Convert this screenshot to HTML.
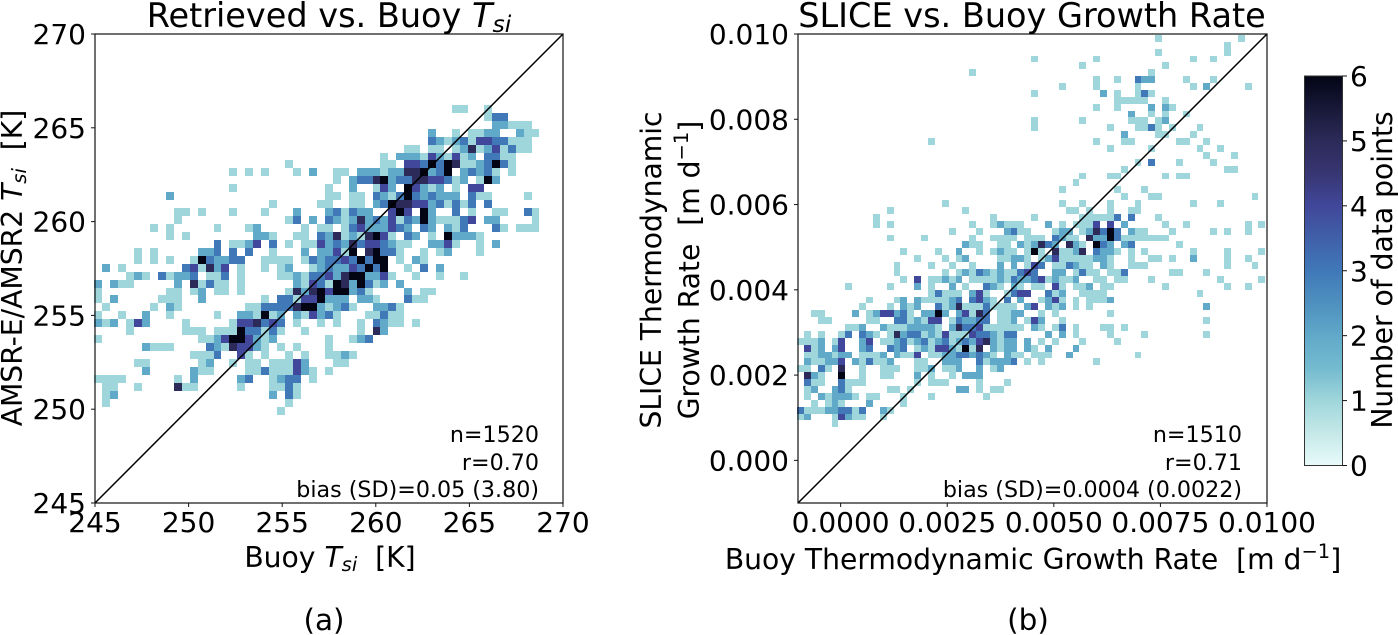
<!DOCTYPE html>
<html lang="en">
<head>
<meta charset="utf-8">
<title>Retrieved vs. Buoy and SLICE vs. Buoy</title>
<style>
html,body{margin:0;padding:0;background:#fff;width:1398px;height:635px;overflow:hidden}
svg{display:block}
text{font-family:"DejaVu Sans","Liberation Sans",sans-serif;fill:#000}
.i{font-style:italic}
</style>
</head>
<body>
<svg id="fig" xmlns="http://www.w3.org/2000/svg" width="1398" height="635" viewBox="0 0 1398 635">
<defs>
<linearGradient id="cbGrad" x1="0" y1="1" x2="0" y2="0"></linearGradient>
</defs>
<rect width="1398" height="635" fill="#fff"/>
<g id="panelA"></g>
<g id="panelB"></g>
<g id="colorbar"></g>

<text x="329" y="27" font-size="33.5" text-anchor="middle">Retrieved vs. Buoy <tspan class="i">T</tspan><tspan class="i" font-size="23.5" dy="5">si</tspan></text>
<text x="1032" y="27" font-size="33.5" text-anchor="middle">SLICE vs. Buoy Growth Rate</text>

<text x="330" y="567" font-size="28.2" text-anchor="middle">Buoy <tspan class="i">T</tspan><tspan class="i" font-size="19.5" dy="4">si</tspan><tspan dy="-4">&#160; [K]</tspan></text>
<text transform="translate(22,268) rotate(-90)" font-size="28.2" text-anchor="middle">AMSR-E/AMSR2 <tspan class="i">T</tspan><tspan class="i" font-size="19.5" dy="4">si</tspan><tspan dy="-4">&#160; [K]</tspan></text>
<text x="1033" y="569" font-size="28.2" text-anchor="middle">Buoy Thermodynamic Growth Rate&#160; [m d<tspan font-size="19.5" dy="-11">&#8722;1</tspan><tspan dy="11">]</tspan></text>
<text transform="translate(661,270) rotate(-90)" font-size="28.2" text-anchor="middle">SLICE Thermodynamic</text>
<text transform="translate(699,270) rotate(-90)" font-size="28.2" text-anchor="middle">Growth Rate&#160; [m d<tspan font-size="19.5" dy="-11">&#8722;1</tspan><tspan dy="11">]</tspan></text>

<text x="539" y="442" font-size="22.2" text-anchor="end">n=1520</text>
<text x="539" y="470" font-size="22.2" text-anchor="end">r=0.70</text>
<text x="539" y="497" font-size="22.2" text-anchor="end">bias (SD)=0.05 (3.80)</text>
<text x="1242" y="442" font-size="22.2" text-anchor="end">n=1510</text>
<text x="1242" y="470" font-size="22.2" text-anchor="end">r=0.71</text>
<text x="1242" y="497" font-size="22.2" text-anchor="end">bias (SD)=0.0004 (0.0022)</text>

<text x="324" y="630" font-size="29.5" text-anchor="middle">(a)</text>
<text x="1028" y="630" font-size="29.5" text-anchor="middle">(b)</text>
<text transform="translate(1392,270) rotate(-90)" font-size="28.2" text-anchor="middle">Number of data points</text>
</svg>

<script>
// Panel (a): axis ticks and tick labels
const tsiTicks = [245, 250, 255, 260, 265, 270];
const tsiTickLabels = ["245", "250", "255", "260", "265", "270"];
// Panel (a): histogram bins (K)
const tsiBinWidth = 0.4247;
const tsiBinStartX = 244.96;
const tsiBinTopY = 266.22;
const tsiBinHeight = 0.4232;
// Panel (a): per row from the top, alternating column bin, count
const tsiRows = [
[45,1,46,1,49,1],
[49,1,50,3,51,3],
[50,2,51,2,52,1,53,1,54,1],
[42,2,45,1,47,1,48,1,49,2,50,2,53,2,54,1,55,1],
[42,3,43,2,44,1,45,2,46,3,47,1,48,4,49,4,50,3,51,3,52,1,53,1,54,1],
[39,1,40,1,42,1,43,1,45,1,46,2,47,5,48,1,49,2,50,4,51,1,52,3,53,1,54,1],
[36,1,38,2,39,2,40,2,41,1,42,4,43,2,44,1,45,4,46,1,47,2,49,3,50,3,51,1,52,1],
[24,1,36,1,37,1,39,4,40,4,41,3,42,6,43,3,44,6,45,5,46,1,47,1,48,2,49,3,50,6,51,3,52,1],
[17,1,19,1,21,1,25,1,27,2,30,1,31,1,33,2,34,2,35,2,36,1,37,2,38,2,39,5,40,5,41,6,42,2,43,3,44,6,46,2,47,3,48,2,49,3,50,1,52,1],
[30,1,32,2,33,3,34,3,35,5,36,6,37,2,38,3,39,3,40,5,41,5,42,4,43,4,44,3,45,1,46,2,48,1,49,6,50,2],
[17,1,29,1,32,2,35,1,36,4,37,2,39,6,40,4,41,2,42,1,43,2,45,1,47,4,48,4],
[9,2,29,1,30,1,32,1,33,1,35,3,36,2,37,1,38,3,39,6,40,3,41,2,42,3,43,2,44,2,45,2,47,3,48,1,49,1,54,1],
[22,1,28,1,29,1,32,1,33,1,35,2,36,3,37,6,38,5,39,5,40,4,41,4,42,2,43,3,44,1,45,3,46,1,47,3,49,3],
[10,1,11,1,13,1,17,1,21,1,25,2,29,2,30,3,31,1,32,3,33,2,34,2,37,4,38,6,39,4,41,6,42,2,45,3,47,1,50,1,51,1,54,3,55,1],
[10,1,24,1,25,3,27,2,29,3,30,2,31,1,32,2,33,5,34,2,35,3,36,2,37,4,38,1,39,3,40,2,41,6,42,2,43,1,44,1,45,1,46,3,47,4,49,2,50,2,55,1],
[7,1,9,1,15,1,19,1,20,2,26,1,28,1,29,1,31,1,32,3,33,4,34,2,35,2,36,2,37,4,38,3,39,2,41,3,42,2,44,2,45,1,46,3,50,3,51,1,53,1,54,1,55,1],
[9,1,11,1,20,2,21,2,22,1,25,1,26,1,28,3,29,2,30,5,31,1,32,2,33,1,34,5,35,6,36,4,37,1,39,3,40,2,42,1,44,6,45,2,46,2,47,2,48,1],
[15,3,17,1,18,1,19,2,20,4,22,3,24,1,26,1,27,1,28,4,29,2,30,3,31,2,32,5,33,3,34,4,35,4,36,3,37,2,38,1,39,1,42,2,43,2,44,4,45,1,48,1,50,2],
[5,1,7,1,13,2,14,2,15,3,17,3,19,3,22,1,26,2,28,2,29,2,30,4,31,1,32,6,34,5,35,6,36,3,37,3,38,1,41,1,43,1,44,2,48,1],
[5,1,7,1,9,1,12,1,13,6,14,3,15,2,16,2,17,3,18,3,21,1,22,1,23,1,24,1,26,1,27,3,28,2,29,3,30,3,31,4,32,3,33,6,34,3,35,6,36,6,38,1,40,2,41,1],
[1,2,3,1,11,3,12,4,13,1,14,5,15,2,16,4,18,1,21,1,23,1,24,2,27,1,28,2,29,3,30,2,31,2,32,4,33,3,34,6,35,3,36,6,39,1,41,3,43,2],
[4,1,5,2,6,1,8,3,9,1,10,2,11,2,12,3,14,1,15,1,16,3,18,1,23,1,24,1,25,2,26,1,27,3,28,3,29,4,30,2,31,5,32,6,33,6,34,2,35,2,36,4,37,1,40,1,43,1,46,1],
[0,2,2,2,3,1,4,1,10,2,12,5,13,1,14,3,15,1,16,1,18,1,25,2,26,1,27,4,28,3,29,1,30,6,31,5,32,2,33,6,34,3,35,1,36,2,38,2],
[0,1,9,1,10,1,12,1,13,2,15,1,16,1,18,1,24,1,25,5,26,2,27,5,28,6,29,4,30,6,31,6,32,2,33,3,34,1,39,2,41,1,42,1],
[0,1,2,2,8,1,9,1,10,1,13,2,21,1,23,3,24,3,25,1,26,4,27,4,28,6,29,2,30,2,31,2,33,2,34,2,35,1,39,3,40,1,41,1],
[1,1,7,1,9,2,10,1,19,1,20,1,21,3,22,3,23,3,24,3,25,5,26,6,27,6,28,2,29,1,30,2,31,3,32,1,35,2,36,2,37,3,38,1],
[0,1,3,1,6,2,9,1,15,1,18,2,19,2,20,1,21,6,22,1,23,2,25,2,26,1,27,4,28,2,29,3,30,1,34,1,35,1,36,3,37,1,38,1],
[0,2,1,1,2,2,4,1,5,4,6,2,11,1,17,1,18,4,19,4,20,5,21,3,22,4,23,3,25,1,28,1,30,1,33,1,35,3,36,2,37,1,38,1,40,1],
[4,1,11,1,12,1,13,1,15,1,16,1,17,1,18,6,19,3,20,3,21,1,22,3,23,1,26,1,33,1,35,5,36,2],
[0,1,13,1,14,1,15,2,16,4,17,6,18,6,19,4,20,2,21,1,22,2,29,1,32,1,33,2,34,3],
[6,2,7,1,8,1,9,1,14,3,15,2,16,1,17,5,18,4,19,4,20,2,21,1,23,1,25,1,29,1],
[12,1,13,1,14,1,15,3,18,4,19,1,21,1,24,1,26,1,29,1,30,1,31,2,32,1],
[5,1,6,1,13,1,14,2,17,1,19,1,20,1,22,1,23,1,24,1,25,4,26,2,30,1,31,1],
[6,2,12,2,13,1,14,1,19,1,20,1,21,3,22,1,23,1,24,1,25,4,26,2,27,1,29,1],
[0,1,1,1,2,1,3,1,10,1,12,2,18,2,19,3,22,1,23,2,24,3,25,3,27,1],
[1,1,2,1,5,1,10,5,11,1,12,1,18,1,22,1,23,1,24,3,25,1],
[1,1,2,2,22,2,24,3,25,1],
[1,1,24,1],
[23,1]
];

// Panel (b): axis ticks and tick labels
const rateXTicks = [0, 0.0025, 0.005, 0.0075, 0.01];
const rateXTickLabels = ["0.0000", "0.0025", "0.0050", "0.0075", "0.0100"];
const rateYTicks = [0, 0.002, 0.004, 0.006, 0.008, 0.01];
const rateYTickLabels = ["0.000", "0.002", "0.004", "0.006", "0.008", "0.010"];
// Panel (b): histogram bins (m/d)
const rateBinWidth = 0.0001615;
const rateBinStartX = -0.00102;
const rateBinTopY = 0.00998;
// Panel (b): per row from the top, alternating column bin, count
const rateRows = [
[52,1,64,1],
[62,1],
[52,1,62,1],
[34,1,43,1,57,1,60,1],
[41,1,53,1],
[25,1,51,1],
[43,1,46,1,49,3,50,2,51,2,56,1,60,1],
[38,1,43,1,49,1,57,1,59,2,65,1],
[34,1,44,2,46,1,49,1,50,3,51,1],
[46,1,47,1,48,1,49,1,50,1,53,1],
[43,1,46,1,51,2,53,2,54,1],
[48,2,51,1,53,1,56,1],
[34,1,41,1,48,1,49,1,50,1,52,1,53,2],
[34,1,45,1,49,1,50,1,51,3,52,1,54,1,58,1],
[47,2,52,1,53,1,57,1],
[19,1,43,1,47,1,48,1,55,1,56,1,59,1],
[45,1,51,1,58,1,61,1],
[59,1,63,1],
[49,1,51,3,55,1,60,1],
[47,1,62,1,63,1],
[41,1,45,1,46,1,53,1,55,1,56,1],
[40,1],
[38,1,46,1,50,1],
[47,1,51,1,52,1,66,1],
[21,1,38,1,41,1,45,1,49,1,57,1,61,1],
[13,1,24,1,39,1,40,1,42,1,45,1,48,1,49,1],
[11,1,28,1,34,1,41,1,42,1,43,1,44,1,45,1,46,3,48,3,52,1],
[11,1,13,1,25,1,28,1,29,2,30,1,31,1,32,1,36,2,38,1,40,1,41,1,42,1,43,4,45,4,47,2,53,1,56,1,65,1,67,1],
[22,1,26,1,30,2,31,3,32,1,33,1,37,1,38,2,39,2,41,1,42,2,43,5,44,3,45,6,46,3,48,2,49,1,50,1,54,1,60,1,62,1,65,1],
[13,1,18,1,25,1,28,1,29,1,30,1,31,1,33,1,34,1,35,1,37,3,38,2,39,1,40,1,42,5,43,2,44,2,45,6,46,3,47,1,48,1,49,1,50,1,51,1,52,1,53,1],
[24,2,25,1,26,1,29,1,30,1,32,2,33,1,34,2,35,5,36,3,37,2,39,5,40,2,41,1,43,6,44,3,45,2,47,2,48,3,55,1],
[15,1,20,1,23,2,26,1,28,1,29,2,30,1,31,1,33,1,34,6,35,1,37,5,38,1,39,1,40,2,41,5,43,3,44,2,45,2,46,1,48,1,50,1,57,1,62,1,67,1],
[17,1,21,1,23,1,24,2,29,1,30,1,31,2,32,2,33,1,35,1,36,2,37,4,38,1,39,1,40,1,41,1,42,1,43,2,44,2,45,1,48,1,51,1,52,1,54,1,57,2,62,1,65,1],
[14,1,19,1,22,1,25,1,29,2,31,2,33,1,34,4,35,3,37,1,38,1,39,3,40,2,41,1,42,1,44,2,45,1,48,1,49,1,50,1,62,1,66,1],
[14,1,21,1,23,1,24,2,25,1,26,3,27,2,28,1,29,2,30,1,31,1,32,3,33,4,34,3,37,2,38,2,40,1,41,3,42,1,43,1,45,1,46,1,47,3,54,1,55,1,59,1],
[15,1,17,4,19,1,20,1,21,2,22,1,23,2,25,1,26,1,27,1,28,1,29,2,30,1,31,3,32,2,33,2,34,3,35,4,36,1,37,2,38,1,39,1,40,2,43,1,44,1,46,1,47,1,51,1,61,1,67,1],
[7,1,13,1,17,2,19,1,22,2,24,1,27,3,28,2,29,1,31,2,32,1,34,1,35,1,37,4,38,1,40,1,41,1,42,2,44,1,45,1,53,1,62,1,65,1],
[19,1,20,3,21,1,22,1,23,1,25,2,26,4,27,1,30,1,31,3,32,4,33,4,36,3,37,1,38,2,41,1,42,1,43,1,44,1,58,1],
[10,1,14,1,15,2,17,2,18,1,19,1,20,1,21,1,22,2,23,3,25,3,26,4,27,2,28,1,30,3,32,2,35,1,36,2,37,4,38,1,40,1,42,1,43,1,44,1,45,2],
[9,1,13,1,15,2,16,1,17,2,20,3,21,1,22,2,23,5,24,1,25,1,26,1,27,3,28,1,29,1,30,1,31,1,33,2,34,4,36,2,37,1,38,2,40,1,42,1,59,2],
[2,1,3,1,8,2,10,1,11,2,12,4,13,4,14,2,15,3,16,1,18,2,19,2,20,6,21,2,23,2,24,4,25,1,26,5,27,3,29,1,30,1,31,2,32,2,35,1,37,1,45,1],
[3,1,4,1,10,1,11,1,14,3,15,3,16,1,17,2,18,1,19,4,20,4,22,1,23,3,24,2,25,2,26,3,27,3,29,1,30,1,31,2,33,1,34,4,35,2,38,1,59,1],
[7,1,8,1,9,2,12,2,13,1,14,1,15,1,16,2,17,2,18,2,19,2,20,1,22,2,23,5,24,3,25,3,26,4,27,1,28,1,29,1,30,1,31,1,32,1,34,2,35,1,37,1,38,3,40,1,44,1,45,1,47,1],
[1,1,3,1,6,1,7,3,9,3,10,2,11,1,13,1,14,5,15,2,16,3,17,3,18,1,19,2,20,1,21,4,22,1,23,1,24,1,25,4,26,3,27,3,28,2,29,1,30,3,31,3,36,2,38,2,40,1,45,1,50,1,59,1],
[0,1,1,1,2,1,3,2,5,1,6,4,9,2,10,4,12,1,13,1,14,2,15,3,16,1,17,2,18,3,19,1,20,2,21,3,22,1,23,2,24,3,25,2,26,4,27,5,28,2,29,1,30,2,31,2,33,2,35,1,37,1,41,1,46,1],
[1,4,2,1,3,2,5,2,6,4,9,2,10,3,13,3,14,2,15,3,17,1,18,2,19,1,20,4,21,4,22,2,23,1,24,6,25,1,26,5,28,2,29,1,30,2,31,2,33,2,34,1,36,2,40,2],
[1,1,2,1,3,2,4,2,5,1,6,2,7,2,9,1,10,1,11,1,12,2,14,2,15,1,16,1,17,4,19,1,20,1,21,2,22,2,23,3,24,3,25,2,26,3,27,2,28,1,30,2,31,1,32,1,34,1,35,1,36,1,39,2,49,1],
[1,2,2,1,3,1,4,2,5,2,6,4,8,2,9,1,10,3,11,1,12,1,13,2,17,1,18,1,21,2,22,2,23,2,26,3,27,1,28,2,29,2,30,2,31,3,33,1,35,1,43,1],
[0,1,1,1,3,3,4,1,6,5,9,1,12,1,13,1,14,1,17,1,18,1,19,2,21,1,22,1,23,2,26,2,28,1,29,2],
[1,5,2,2,3,1,6,6,9,1,12,1,13,1,17,2,19,1,22,1,24,2,25,2,26,2],
[1,3,2,1,3,1,6,3,7,1,8,1,9,1,17,1,19,1,20,1,21,1,26,1,30,1],
[1,1,2,2,5,2,6,3,7,1,13,1,14,1,16,1,23,2,24,2,26,1,28,1,29,1],
[1,1,3,2,4,1,5,2,6,2,7,2,8,1,10,1,11,1,15,1,19,1,27,1],
[2,1,4,1,5,2,6,1,10,2,15,1],
[0,3,1,1,2,1,3,1,4,2,5,2,6,3,7,3,8,1,9,3,12,2,13,1],
[0,1,1,2,5,1,6,4,7,2,8,1,9,1,12,1],
[5,1]
];

// Colour bar: ticks, labels and colour-map levels
const cbarTicks = [0, 1, 2, 3, 4, 5, 6];
const cbarTickLabels = ["0", "1", "2", "3", "4", "5", "6"];
const cmapLevels = [0, 0.5, 1, 1.5, 2, 2.5, 3, 3.5, 4, 4.5, 5, 5.5, 6];
const cmapColors = ["#e8fbfa", "#c5e8e8", "#9fd6db", "#74bacf", "#60a9c9", "#4e90bf", "#4078b8", "#4060a9", "#41479a", "#373672", "#2c2a58", "#181838", "#030515"];

const NS = "http://www.w3.org/2000/svg";
function make(parent, tag, attrs, text) {
  const e = document.createElementNS(NS, tag);
  for (const k in attrs) e.setAttribute(k, attrs[k]);
  if (text !== undefined) e.textContent = text;
  parent.appendChild(e);
  return e;
}
function linearScale(d0, d1, r0, r1) {
  return v => r0 + (v - d0) / (d1 - d0) * (r1 - r0);
}
function countColor(n) {
  const i = cmapLevels.indexOf(n);
  return i >= 0 ? cmapColors[i] : cmapColors[cmapColors.length - 1];
}

function drawPanel(g, opt) {
  const x = opt.x, y = opt.y;
  const cells = make(g, "g", {"shape-rendering": "crispEdges"});
  
  
  opt.rows.forEach((row, r) => {
    for (let i = 0; i < row.length; i += 2) {
      const c = row[i], n = row[i + 1];
      if (!n) continue;
      const x0 = Math.round(x(opt.startX + c * opt.binW));
      const x1 = Math.round(x(opt.startX + (c + 1) * opt.binW));
      const y0 = Math.round(y(opt.topY - r * opt.binH));
      const y1 = Math.round(y(opt.topY - (r + 1) * opt.binH));
      const rect = make(cells, "rect", {x: x0, y: y0, width: x1 - x0, height: y1 - y0, fill: countColor(n)});
      
      
    }
  });
  const line = make(g, "line", {x1: x(opt.lim[0]), y1: y(opt.lim[0]), x2: x(opt.lim[1]), y2: y(opt.lim[1]), stroke: "#000", "stroke-width": 1.5});
  
  
  const frame = make(g, "rect", {x: x(opt.lim[0]), y: y(opt.lim[1]), width: x(opt.lim[1]) - x(opt.lim[0]), height: y(opt.lim[0]) - y(opt.lim[1]), fill: "none", stroke: "#111", "stroke-width": 1.2});
  
  
  const bottom = y(opt.lim[0]), left = x(opt.lim[0]);
  opt.xTicks.forEach((t, i) => {
    const tick = make(g, "line", {x1: x(t), x2: x(t), y1: bottom, y2: bottom + 4, stroke: "#111", "stroke-width": 1});
    
    
    const lab = make(g, "text", {x: x(t), y: 532, "font-size": 28, "text-anchor": "middle"}, opt.xLabels[i]);
    
    
  });
  opt.yTicks.forEach((t, i) => {
    const tick = make(g, "line", {x1: left - 4, x2: left, y1: y(t), y2: y(t), stroke: "#111", "stroke-width": 1});
    
    
    const lab = make(g, "text", {x: left - 9, y: y(t) + 10, "font-size": 28, "text-anchor": "end"}, opt.yLabels[i]);
    
    
  });
}

drawPanel(document.getElementById("panelA"), {
  x: linearScale(245, 270, 95, 563),
  y: linearScale(245, 270, 503, 34),
  lim: [245, 270],
  rows: tsiRows,
  startX: tsiBinStartX, binW: tsiBinWidth, topY: tsiBinTopY, binH: tsiBinHeight,
  xTicks: tsiTicks, xLabels: tsiTickLabels,
  yTicks: tsiTicks, yLabels: tsiTickLabels
});
drawPanel(document.getElementById("panelB"), {
  x: linearScale(-0.001, 0.01, 798, 1267),
  y: linearScale(-0.001, 0.01, 503, 34),
  lim: [-0.001, 0.01],
  rows: rateRows,
  startX: rateBinStartX, binW: rateBinWidth, topY: rateBinTopY, binH: rateBinWidth,
  xTicks: rateXTicks, xLabels: rateXTickLabels,
  yTicks: rateYTicks, yLabels: rateYTickLabels
});

// Colour bar
const grad = document.getElementById("cbGrad");
cmapLevels.forEach((lv, i) => {
  make(grad, "stop", {offset: (lv / 6 * 100) + "%", "stop-color": cmapColors[i]});
});
const cb = document.getElementById("colorbar");
const cbY = linearScale(0, 6, 465.5, 76);
const cbRect = make(cb, "rect", {x: 1304.5, y: cbY(6), width: 38, height: cbY(0) - cbY(6), fill: "url(#cbGrad)", stroke: "#333", "stroke-width": 1});


cbarTicks.forEach((t, i) => {
  const tick = make(cb, "line", {x1: 1342.5, x2: 1347, y1: cbY(t), y2: cbY(t), stroke: "#111", "stroke-width": 1});
  
  
  const lab = make(cb, "text", {x: 1350, y: cbY(t) + 10, "font-size": 28}, cbarTickLabels[i]);
  
  
});
</script>
</body>
</html>
